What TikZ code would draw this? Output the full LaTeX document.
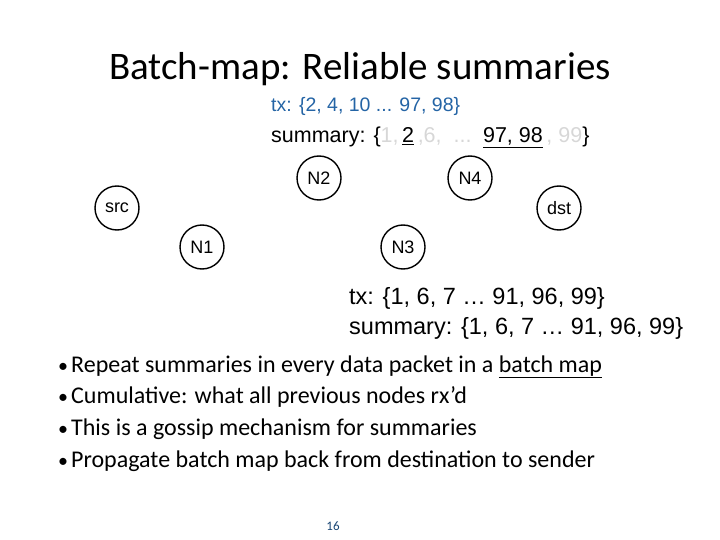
\documentclass[tikz,border=0pt]{standalone}
\usepackage{fontspec}
\setmainfont{Carlito}
\newfontfamily\arial{Liberation Sans}
\definecolor{txblue}{RGB}{36,100,165}
\definecolor{lgray}{RGB}{215,215,215}
\begin{document}
\begin{tikzpicture}[x=1pt,y=-1pt,
  nd/.style={circle,draw,line width=1.4pt,minimum size=44pt,inner sep=0pt,font=\arial\fontsize{18}{20}\selectfont},
  txt/.style={anchor=base west,inner sep=0pt}]
\useasboundingbox (0,0) rectangle (720,540);
\node[inner sep=0pt,anchor=base] (title) at (360,80) {\fontsize{39}{44}\selectfont Batch-map: Reliable summaries};
\node[txt,text=txblue] (tx1) at (271,112) {\arial\fontsize{19.5}{24}\selectfont tx: \{2, 4, 10 ... 97, 98\}};
\node[txt] (s1) at (271,143) {\arial\fontsize{21.5}{24}\selectfont summary: \{\textcolor{lgray}{1,}\,\underline{2}\,\textcolor{lgray}{,6, \ ... }\,\underline{97, 98}\,\textcolor{lgray}{, 99}\}};
\node[nd] (src) at (117,208) {src};
\node[nd] (n1) at (202,247) {N1};
\node[nd] (n2) at (319,178) {N2};
\node[nd] (n3) at (403,247) {N3};
\node[nd] (n4) at (470,178) {N4};
\node[nd] (dst) at (559,208) {dst};
\node[txt] (tx2) at (349,304) {\arial\fontsize{23.5}{26}\selectfont tx: \{1, 6, 7 … 91, 96, 99\}};
\node[txt] (s2) at (349,334) {\arial\fontsize{23.5}{26}\selectfont summary: \{1, 6, 7 … 91, 96, 99\}};
\foreach \y/\t [count=\i] in {372/{Repeat summaries in every data packet in a \underline{batch map}},403/{Cumulative: what all previous nodes rx’d},435/{This is a gossip mechanism for summaries},467/{Propagate batch map back from destination to sender}}{
  \node[txt] (b\i) at (58,\y) {\fontsize{20}{26}\selectfont •};
  \node[txt] (t\i) at (71,\y) {\fontsize{24}{28}\selectfont \t};
}
\node[inner sep=0pt,anchor=base] (pg) at (333,530) {\fontsize{13}{14}\selectfont\color{txblue!70!black} 16};
\end{tikzpicture}
\end{document}
